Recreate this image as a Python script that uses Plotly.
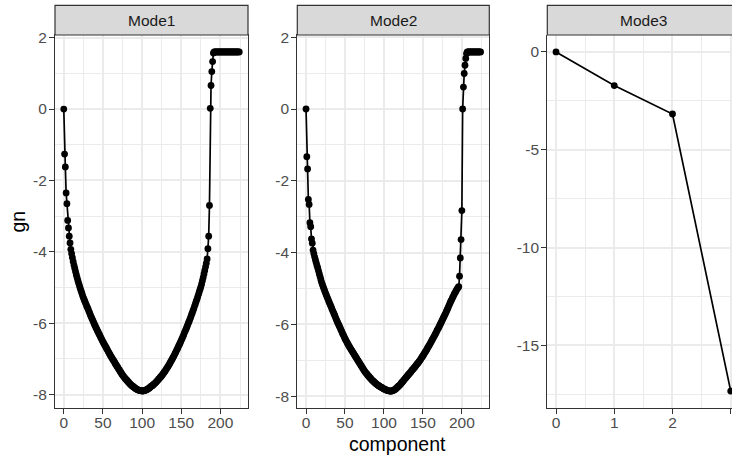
import plotly.graph_objects as go

# ---------------- data ----------------
modes = ["Mode1", "Mode2", "Mode3"]

mode1_gn = [
    0.00, -1.26, -1.62, -2.35, -2.65, -3.12, -3.33, -3.56, -3.75, -3.93,
    -4.05, -4.16, -4.27, -4.37, -4.46, -4.55, -4.64, -4.72, -4.80, -4.88,
    -4.95, -5.02, -5.09, -5.15, -5.22, -5.28, -5.34, -5.39, -5.45, -5.50,
    -5.55, -5.60, -5.66, -5.71, -5.77, -5.82, -5.87, -5.92, -5.97, -6.02,
    -6.07, -6.12, -6.16, -6.21, -6.25, -6.30, -6.34, -6.39, -6.43, -6.48,
    -6.52, -6.56, -6.60, -6.64, -6.68, -6.72, -6.76, -6.80, -6.84, -6.88,
    -6.92, -6.96, -6.99, -7.03, -7.06, -7.10, -7.14, -7.17, -7.21, -7.24,
    -7.28, -7.31, -7.35, -7.38, -7.42, -7.45, -7.48, -7.51, -7.54, -7.56,
    -7.59, -7.61, -7.64, -7.66, -7.69, -7.71, -7.73, -7.75, -7.77, -7.78,
    -7.80, -7.82, -7.83, -7.85, -7.86, -7.87, -7.88, -7.88, -7.89, -7.89,
    -7.90, -7.90, -7.89, -7.89, -7.88, -7.87, -7.86, -7.85, -7.83, -7.82,
    -7.80, -7.78, -7.76, -7.75, -7.73, -7.71, -7.69, -7.67, -7.65, -7.62,
    -7.60, -7.57, -7.55, -7.52, -7.50, -7.47, -7.44, -7.41, -7.38, -7.35,
    -7.32, -7.28, -7.25, -7.21, -7.18, -7.14, -7.10, -7.06, -7.02, -6.98,
    -6.94, -6.90, -6.85, -6.81, -6.76, -6.72, -6.67, -6.62, -6.58, -6.53,
    -6.48, -6.43, -6.38, -6.33, -6.27, -6.22, -6.17, -6.11, -6.06, -6.00,
    -5.95, -5.89, -5.83, -5.77, -5.71, -5.65, -5.59, -5.52, -5.46, -5.39,
    -5.33, -5.26, -5.19, -5.12, -5.05, -4.98, -4.90, -4.81, -4.72, -4.62,
    -4.52, -4.42, -4.32, -4.20, -3.91, -3.56, -2.70, 0.02, 0.66, 1.05,
    1.33, 1.57, 1.60, 1.60, 1.60, 1.60, 1.60, 1.60, 1.60, 1.60,
    1.60, 1.60, 1.60, 1.60, 1.60, 1.60, 1.60, 1.60, 1.60, 1.60,
    1.60, 1.60, 1.60, 1.60, 1.60, 1.60, 1.60, 1.60, 1.60, 1.60,
    1.60, 1.60, 1.60, 1.60, 1.60,
]

mode2_gn = [
    0.00, -1.33, -1.67, -2.52, -2.66, -3.17, -3.28, -3.62, -3.74, -3.93,
    -4.03, -4.12, -4.20, -4.28, -4.36, -4.43, -4.51, -4.59, -4.67, -4.75,
    -4.83, -4.89, -4.95, -5.01, -5.07, -5.13, -5.18, -5.24, -5.29, -5.35,
    -5.40, -5.45, -5.50, -5.56, -5.61, -5.66, -5.71, -5.76, -5.82, -5.87,
    -5.92, -5.97, -6.02, -6.06, -6.11, -6.16, -6.21, -6.26, -6.30, -6.35,
    -6.40, -6.44, -6.48, -6.52, -6.56, -6.60, -6.64, -6.67, -6.71, -6.74,
    -6.78, -6.81, -6.85, -6.88, -6.92, -6.95, -6.99, -7.02, -7.06, -7.09,
    -7.13, -7.16, -7.20, -7.23, -7.27, -7.30, -7.33, -7.36, -7.38, -7.41,
    -7.44, -7.46, -7.49, -7.51, -7.54, -7.56, -7.58, -7.60, -7.62, -7.64,
    -7.66, -7.68, -7.69, -7.71, -7.72, -7.74, -7.75, -7.76, -7.77, -7.79,
    -7.80, -7.81, -7.82, -7.83, -7.84, -7.85, -7.85, -7.86, -7.86, -7.86,
    -7.86, -7.85, -7.84, -7.83, -7.82, -7.80, -7.78, -7.76, -7.74, -7.72,
    -7.70, -7.68, -7.65, -7.62, -7.60, -7.57, -7.54, -7.52, -7.49, -7.47,
    -7.44, -7.41, -7.39, -7.36, -7.34, -7.31, -7.28, -7.26, -7.23, -7.21,
    -7.18, -7.15, -7.12, -7.10, -7.07, -7.04, -7.01, -6.98, -6.94, -6.91,
    -6.88, -6.84, -6.81, -6.77, -6.74, -6.70, -6.66, -6.62, -6.59, -6.55,
    -6.51, -6.47, -6.43, -6.39, -6.35, -6.31, -6.27, -6.23, -6.18, -6.14,
    -6.10, -6.06, -6.01, -5.97, -5.92, -5.88, -5.83, -5.79, -5.74, -5.70,
    -5.65, -5.60, -5.55, -5.50, -5.45, -5.40, -5.35, -5.31, -5.26, -5.22,
    -5.17, -5.13, -5.09, -5.05, -5.01, -4.98, -4.95, -4.66, -4.15, -3.64,
    -2.83, 0.00, 0.61, 0.99, 1.22, 1.41, 1.55, 1.59, 1.59, 1.59,
    1.59, 1.59, 1.59, 1.59, 1.59, 1.59, 1.59, 1.59, 1.59, 1.59,
    1.59, 1.59, 1.59, 1.59, 1.59,
]

mode3_gn = [0.00, -1.72, -3.17, -17.33]

x_ticks_12 = [0, 50, 100, 150, 200]
x_ticks_3 = [0, 1, 2, 3]
y_ticks_12 = [-8, -6, -4, -2, 0, 2]
y_ticks_3 = [-15, -10, -5, 0]

series = [mode1_gn, mode2_gn, mode3_gn]

# ---------------- layout geometry (pixels) ----------------
W, H = 732, 459
panel_x = [(55, 248), (297.3, 489.3), (547.3, 732)]
panel_top, panel_bot = 35, 408
strip_top = 5.3
x_ranges = [[-11.2, 235.2], [-11.2, 235.2], [-0.15, 3.022]]
y_ranges = [[-8.375, 2.075], [-8.3325, 2.0625], [-18.1965, 0.8665]]
panel_centers = [151.5, 393.3, 643.4]

FONT = "Liberation Sans, Arial, sans-serif"
GRID = "#EBEBEB"
BORDER = "#333333"

fig = go.Figure()

for i, ys in enumerate(series):
    xs = list(range(len(ys)))
    sfx = "" if i == 0 else str(i + 1)
    fig.add_trace(go.Scatter(
        x=xs, y=ys, mode="lines+markers",
        line=dict(color="black", width=1.7),
        marker=dict(color="black", size=6.8),
        xaxis="x" + sfx, yaxis="y" + sfx, showlegend=False,
        cliponaxis=True,
    ))

def fmt(v):
    return str(v) if v >= 0 else "-" + str(-v)

y_dom = [(H - panel_bot) / H, (H - panel_top) / H]
for i in range(3):
    sfx = "" if i == 0 else str(i + 1)
    xt = x_ticks_3 if i == 2 else x_ticks_12
    yt = y_ticks_3 if i == 2 else y_ticks_12
    mirror = i < 2
    xa = dict(
        domain=[panel_x[i][0] / W, panel_x[i][1] / W],
        range=x_ranges[i], anchor="y" + sfx, automargin=False,
        tickmode="array", tickvals=xt, ticktext=[fmt(v) for v in xt],
        ticks="outside", ticklen=5, tickwidth=1.2, tickcolor=BORDER,
        ticklabelstandoff=-5,
        tickfont=dict(family=FONT, size=15.5, color="#4D4D4D"),
        showgrid=True, gridcolor=GRID, gridwidth=1.8,
        minor=dict(dtick=25 if i < 2 else 0.5, tick0=0, showgrid=True,
                   gridcolor=GRID, gridwidth=0.9, ticks=""),
        zeroline=False, showline=True, linecolor=BORDER, linewidth=1.2,
        mirror=mirror, fixedrange=True,
    )
    ya = dict(
        domain=y_dom, range=y_ranges[i], anchor="x" + sfx, automargin=False,
        tickmode="array", tickvals=yt, ticktext=[fmt(v) for v in yt],
        ticks="outside", ticklen=5, tickwidth=1.2, tickcolor=BORDER,
        ticklabelstandoff=-1,
        tickfont=dict(family=FONT, size=15.5, color="#4D4D4D"),
        showgrid=True, gridcolor=GRID, gridwidth=1.8,
        minor=dict(dtick=1 if i < 2 else 2.5, tick0=0, showgrid=True,
                   gridcolor=GRID, gridwidth=0.9, ticks=""),
        zeroline=False, showline=True, linecolor=BORDER, linewidth=1.2,
        mirror=mirror, fixedrange=True,
    )
    fig.update_layout(**{"xaxis" + sfx: xa, "yaxis" + sfx: ya})

shapes = []
annotations = []
for i in range(3):
    x0, x1 = panel_x[i]
    if i == 2:
        x1 = 739.5
    shapes.append(dict(
        type="rect", xref="paper", yref="paper",
        x0=x0 / W, x1=x1 / W, y0=(H - panel_top) / H, y1=(H - strip_top) / H,
        fillcolor="#D9D9D9", line=dict(color=BORDER, width=1.2), layer="above",
    ))
    annotations.append(dict(
        text=modes[i], xref="paper", yref="paper",
        x=panel_centers[i] / W, y=(H - 20) / H, xanchor="center", yanchor="middle",
        showarrow=False, font=dict(family=FONT, size=15.5, color="#1A1A1A"),
    ))

annotations.append(dict(
    text="component", xref="paper", yref="paper",
    x=397 / W, y=(H - 444) / H, xanchor="center", yanchor="middle",
    showarrow=False, font=dict(family=FONT, size=19.5, color="black"),
))
annotations.append(dict(
    text="gn", xref="paper", yref="paper", textangle=-90,
    x=17 / W, y=(H - 221.5) / H, xanchor="center", yanchor="middle",
    showarrow=False, font=dict(family=FONT, size=19.5, color="black"),
))

fig.update_layout(
    template="none",
    width=W, height=H,
    margin=dict(l=0, r=0, t=0, b=0, autoexpand=False),
    paper_bgcolor="white", plot_bgcolor="white",
    shapes=shapes, annotations=annotations,
    showlegend=False,
)

fig.write_html(
    "out.html",
    config={"displayModeBar": False},
    post_script="document.body.style.margin='0';document.body.style.overflow='hidden';",
)
